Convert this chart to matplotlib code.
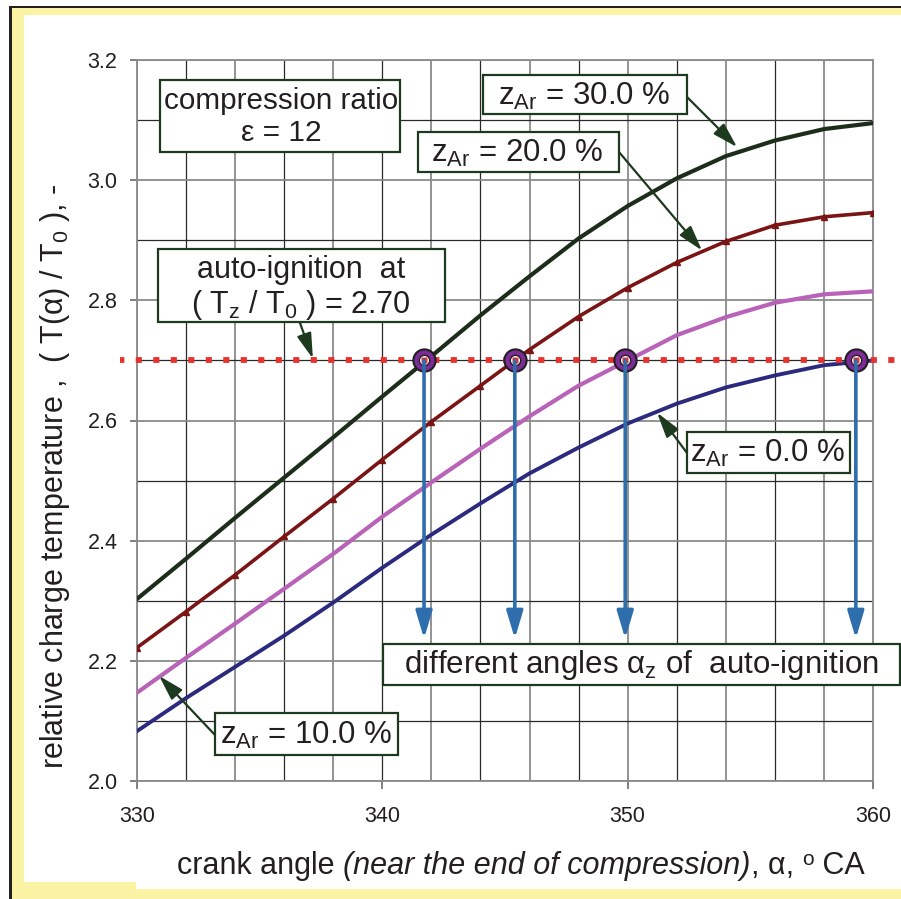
import matplotlib
matplotlib.use("Agg")
import matplotlib.pyplot as plt
from matplotlib.patches import Rectangle

plt.rcParams['font.family'] = ['Liberation Sans', 'DejaVu Sans']
plt.rcParams['mathtext.fontset'] = 'custom'
plt.rcParams['mathtext.rm'] = 'Liberation Sans'
plt.rcParams['mathtext.it'] = 'Liberation Sans:italic'
plt.rcParams['mathtext.bf'] = 'Liberation Sans:bold'

# ---------------- data ----------------
alpha = [330, 332, 334, 336, 338, 340, 342, 344, 346, 348, 350, 352, 354, 356, 358, 360]
T_ar30 = [2.303, 2.370, 2.438, 2.505, 2.572, 2.640, 2.707, 2.775, 2.840, 2.903, 2.957, 3.003, 3.040, 3.066, 3.085, 3.095]
T_ar20 = [2.222, 2.282, 2.343, 2.407, 2.470, 2.535, 2.598, 2.658, 2.718, 2.773, 2.821, 2.863, 2.898, 2.925, 2.939, 2.946]
T_ar10 = [2.147, 2.205, 2.262, 2.320, 2.378, 2.440, 2.497, 2.553, 2.607, 2.658, 2.700, 2.742, 2.772, 2.796, 2.810, 2.815]
T_ar00 = [2.083, 2.138, 2.190, 2.242, 2.297, 2.355, 2.410, 2.462, 2.512, 2.555, 2.595, 2.628, 2.655, 2.675, 2.692, 2.700]
ignition_level = 2.70
ignition_angles = [341.7, 345.4, 349.9, 359.3]
x_ticks = [330, 340, 350, 360]
y_ticks = [2.0, 2.2, 2.4, 2.6, 2.8, 3.0, 3.2]

W, H = 901, 899
fig = plt.figure(figsize=(W / 100, H / 100), dpi=100)
fig.patch.set_facecolor('white')

def fx(x):
    return x / W

def fy(y):
    return 1 - y / H

def frect(x0, y0, x1, y1, **kw):
    r = Rectangle((fx(x0), fy(y1)), (x1 - x0) / W, (y1 - y0) / H,
                  transform=fig.transFigure, **kw)
    fig.add_artist(r)
    return r

# frame
YEL = '#faf3a3'
frect(9, 6, 910, 910, facecolor='#231f20', edgecolor='none', zorder=-5)
frect(11.5, 8.5, 910, 910, facecolor=YEL, edgecolor='none', zorder=-4)
frect(24, 15, 910, 882, facecolor='white', edgecolor='none', zorder=-3)
frect(136, 15, 910, 889, facecolor='white', edgecolor='none', zorder=-3)

ax = fig.add_axes([fx(137), fy(781), (873 - 137) / W, (781 - 60) / H])
ax.set_xlim(330, 360)
ax.set_ylim(2.0, 3.2)
ax.patch.set_facecolor('white')

# grid
for k in range(16):
    xv = 330 + 2 * k
    if k % 2 == 1:
        ax.axvline(xv, color='#2a2a2a', lw=0.9, zorder=1)
    else:
        ax.axvline(xv, color='#8a8a8a', lw=1.3, zorder=1)
for k in range(13):
    yv = 2.0 + 0.1 * k
    if k % 2 == 1:
        ax.axhline(yv, color='#2a2a2a', lw=0.9, zorder=1)
    else:
        ax.axhline(yv, color='#8a8a8a', lw=1.3, zorder=1)

for s in ax.spines.values():
    s.set_color('#8a8a8a')
    s.set_linewidth(1.3)

ax.set_xticks(x_ticks)
ax.set_xticklabels([str(v) for v in x_ticks])
ax.set_yticks(y_ticks)
ax.set_yticklabels([f'{v:.1f}' for v in y_ticks])
ax.tick_params(axis='both', direction='out', color='#6a6a6a', width=1.2,
               labelsize=15.5, labelcolor='#231f20')
ax.tick_params(axis='y', length=5, pad=9)
ax.tick_params(axis='x', length=6, pad=12)

# curves
ax.plot(alpha, T_ar00, color='#2b2a7f', lw=2.8, zorder=4)
ax.plot(alpha, T_ar10, color='#b862b8', lw=3.0, zorder=4)
ax.plot(alpha, T_ar20, color='#7b1515', lw=2.6, marker='^', ms=4.5, zorder=4)
ax.plot(alpha, T_ar30, color='#1c2e1a', lw=3.0, zorder=4)

# auto-ignition level
ax.plot([329.31, 361.2], [ignition_level, ignition_level], color='#e8322e', lw=4.2,
        linestyle=(0.3, (1.05, 1.95)), dash_capstyle='butt', clip_on=False, zorder=5)

# ignition points and arrows
for a in ignition_angles:
    ax.plot([a], [ignition_level], marker='o', ms=16, mfc='#7b2c96', mec='#231f20',
            mew=1.5, zorder=6, clip_on=False)
    ax.plot([a], [ignition_level], marker='o', ms=7.5, mfc='white', mec='#231f20',
            mew=1.0, zorder=6, clip_on=False)
    ax.plot([a], [ignition_level], marker='s', ms=4, mfc='#e8322e', mec='none', zorder=6)
    ax.annotate('', xy=(a, 2.237), xytext=(a, ignition_level),
                arrowprops=dict(arrowstyle='-|>,head_length=1.0,head_width=0.3',
                                color='#2e6ead', lw=2.6, shrinkA=0, shrinkB=0,
                                mutation_scale=16.5),
                zorder=7)

# annotation boxes
EDGE = '#1e3a1e'
TXT = '#231f20'
FS = 22.5

def box(x0, y0, x1, y1):
    frect(x0, y0, x1, y1, facecolor='white', edgecolor=EDGE, lw=1.6, zorder=8)

def label(x, y, s, fs=FS, **kw):
    fig.text(fx(x), fy(y), s, ha='center', va='center', fontsize=fs, color=TXT, zorder=9, **kw)

def arrow(x0, y0, xd, yd):
    ax.annotate('', xy=(xd, yd), xycoords='data', xytext=(fx(x0), fy(y0)),
                textcoords='figure fraction', annotation_clip=False,
                arrowprops=dict(arrowstyle='-|>,head_length=1.1,head_width=0.32',
                                color=EDGE, lw=1.6, shrinkA=0, shrinkB=0,
                                mutation_scale=14),
                zorder=9)

box(160, 80, 400, 152)
label(281, 101, 'compression ratio', fs=21.3)
label(281, 133, 'ε = 12', fs=21.5)

box(158, 249, 445, 322)
label(301, 270, 'auto-ignition  at', fs=22)
label(301, 305, r'( T$_{\rm z}$ / T$_{\rm 0}$ ) = 2.70', fs=22)
arrow(300, 323, 337.17, 2.703)

box(483, 75, 687, 114)
label(584, 96, r'z$_{\rm Ar}$ = 30.0 %')
arrow(687, 97, 354.46, 3.055)

box(418, 132, 619, 172)
label(517, 153, r'z$_{\rm Ar}$ = 20.0 %')
arrow(619, 152, 353.03, 2.883)

box(687, 432, 850, 473)
label(768, 453, r'z$_{\rm Ar}$ = 0.0 %')
arrow(687, 453, 351.2, 2.613)

box(215, 713, 398, 755)
label(306, 735, r'z$_{\rm Ar}$ = 10.0 %')
arrow(215, 735, 330.9, 2.175)

box(383, 644, 900, 685)
label(641, 665, r'different angles α$_{\rm z}$ of  auto-ignition')

# x axis label built from pieces (regular / italic / superscript)
renderer = fig.canvas.get_renderer()
pieces = [('crank angle ', 'normal', 22, 0),
          ('(near the end of compression)', 'italic', 22, 0),
          (', α, ', 'normal', 22, 0),
          ('o', 'normal', 15, 9),
          (' CA', 'normal', 22, 0)]
texts = []
total = 0.0
for s, style, size, rise in pieces:
    t = fig.text(0, 0, s, fontsize=size, style=style, color=TXT, ha='left', va='baseline')
    w = t.get_window_extent(renderer).width
    texts.append((t, w, rise))
    total += w
xcur = 521 - total / 2
base_y = 874
for t, w, rise in texts:
    t.set_position((fx(xcur), fy(base_y - rise)))
    xcur += w

fig.text(fx(55), fy(476), r'relative charge temperature ,  ( T(α) / T$_{\rm 0}$ ), -',
         ha='center', va='center', rotation=90, fontsize=22, color=TXT)

fig.savefig('out.png', dpi=100)
